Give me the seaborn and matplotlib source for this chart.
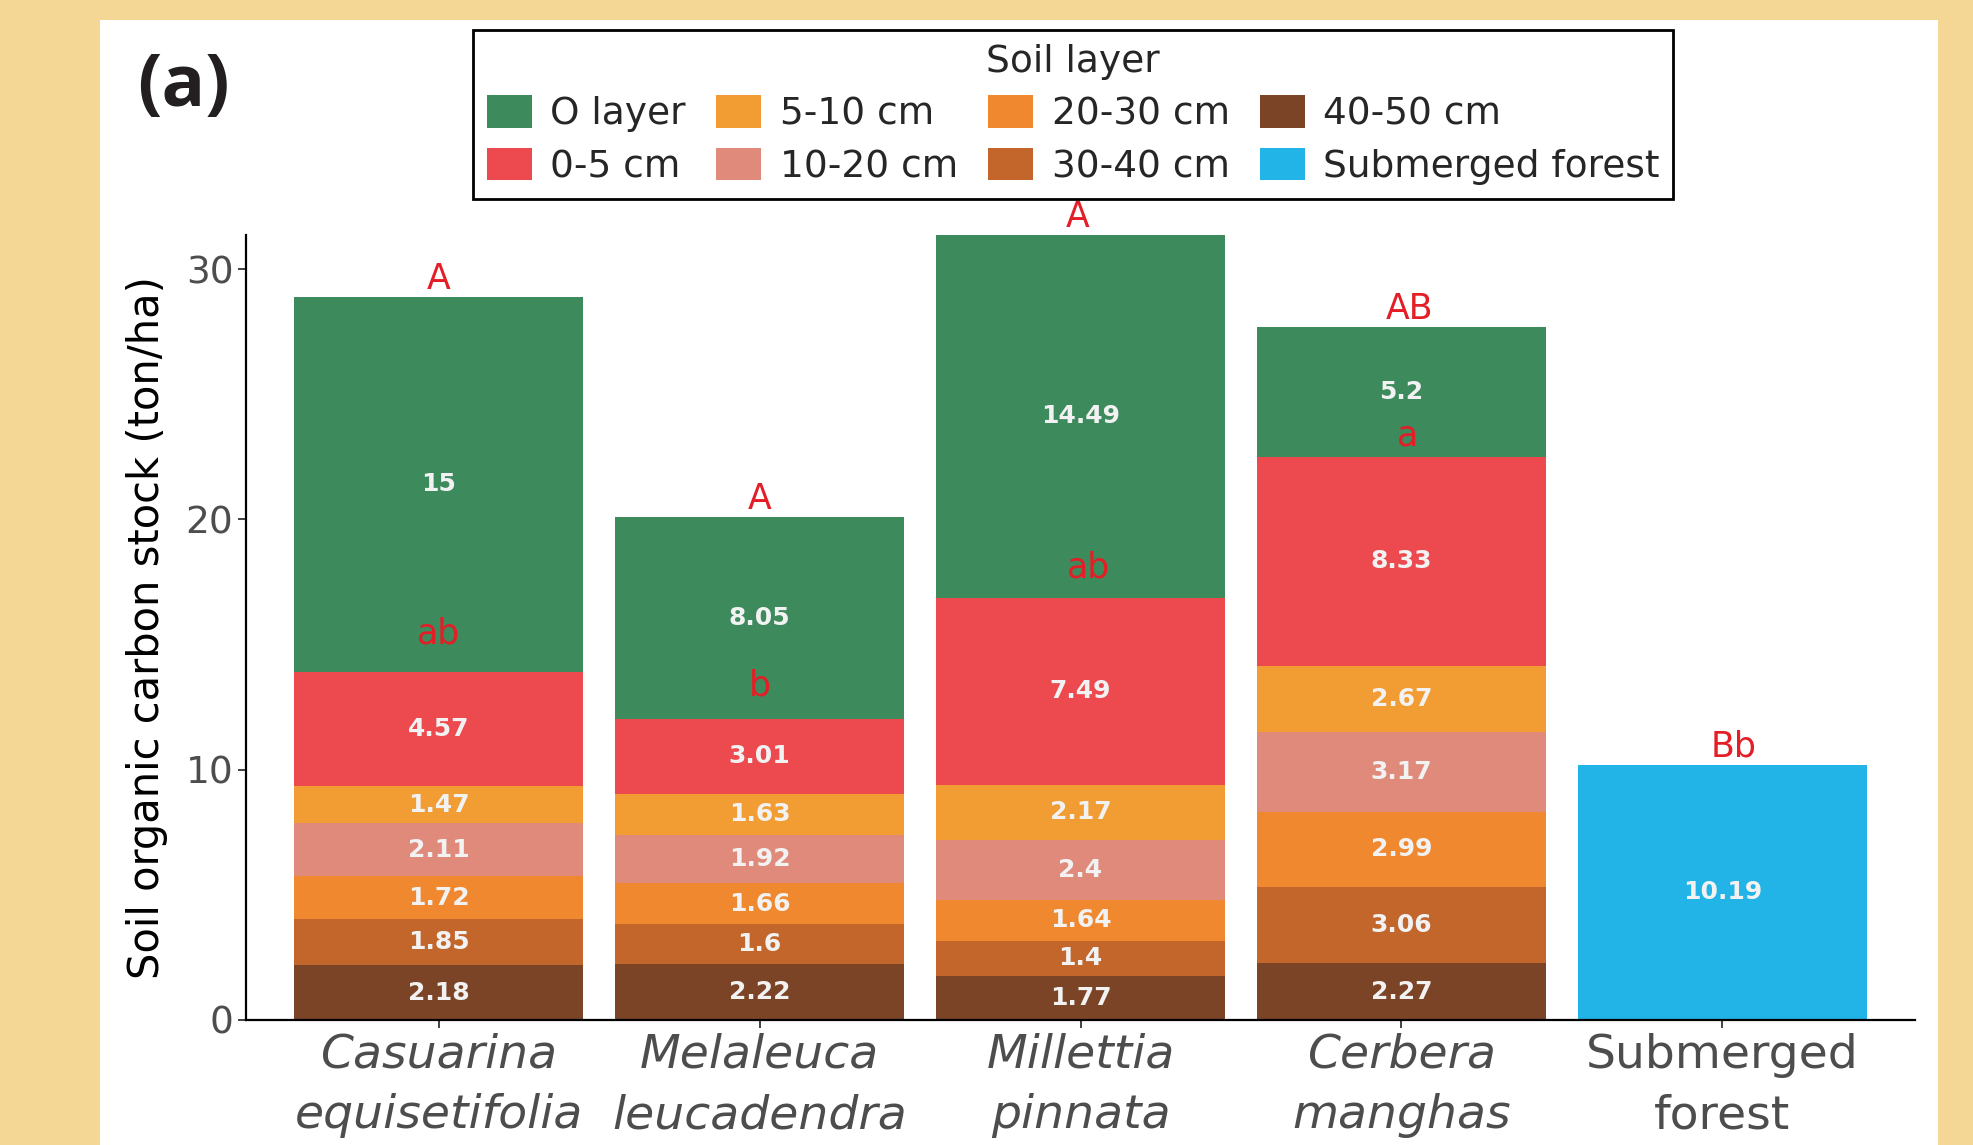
import matplotlib
matplotlib.use("Agg")
import matplotlib.pyplot as plt
import seaborn as sns
import pandas as pd
from matplotlib.patches import Patch, Rectangle

# ---------------- data ----------------
sites = ["Casuarina\nequisetifolia", "Melaleuca\nleucadendra", "Millettia\npinnata",
         "Cerbera\nmanghas", "Submerged\nforest"]
italic_site = [True, True, True, True, False]
layers = ["O layer", "0-5 cm", "5-10 cm", "10-20 cm", "20-30 cm", "30-40 cm",
          "40-50 cm", "Submerged forest"]
o_layer   = [15.0, 8.05, 14.49, 5.2, None]
cm0_5     = [4.57, 3.01, 7.49, 8.33, None]
cm5_10    = [1.47, 1.63, 2.17, 2.67, None]
cm10_20   = [2.11, 1.92, 2.4, 3.17, None]
cm20_30   = [1.72, 1.66, 1.64, 2.99, None]
cm30_40   = [1.85, 1.6, 1.4, 3.06, None]
cm40_50   = [2.18, 2.22, 1.77, 2.27, None]
submerged = [None, None, None, None, 10.19]
upper_letters = ["A", "A", "A", "AB", "Bb"]
lower_letters = ["ab", "b", "ab", "a", ""]
# annotation placement nudges (letters sit a bit above the segment tops)
lower_letter_offsets = [1.55, 1.34, 1.22, 0.87, 0.0]
upper_letter_offset = 0.72
upper_letter_xnudge = [0.0, 0.0, -0.01, 0.025, 0.035]
lower_letter_xnudge = [0.0, 0.0, 0.025, 0.02, 0.0]

layer_values = {"O layer": o_layer, "0-5 cm": cm0_5, "5-10 cm": cm5_10,
                "10-20 cm": cm10_20, "20-30 cm": cm20_30, "30-40 cm": cm30_40,
                "40-50 cm": cm40_50, "Submerged forest": submerged}
colors = {"O layer": "#3D8A5D", "0-5 cm": "#EC4A4F", "5-10 cm": "#F29C34",
          "10-20 cm": "#E08A7B", "20-30 cm": "#F0882F", "30-40 cm": "#C2662C",
          "40-50 cm": "#7B4427", "Submerged forest": "#22B4E6"}

# stack from bottom (deepest) to top
stack_order = ["40-50 cm", "30-40 cm", "20-30 cm", "10-20 cm", "5-10 cm",
               "0-5 cm", "O layer", "Submerged forest"]
rows = []
for i, s in enumerate(sites):
    cum = 0.0
    for lay in stack_order:
        v = layer_values[lay][i]
        if v is None:
            continue
        cum += v
        rows.append(dict(site=s, layer=lay, value=v, cum=cum, mid=cum - v / 2))
df = pd.DataFrame(rows)
totals = df.groupby("site", sort=False)["cum"].max().reindex(sites)
red_top = df[df.layer == "0-5 cm"].set_index("site")["cum"].reindex(sites)

# ---------------- figure ----------------
sns.set_theme(style="white")
plt.rcParams["font.family"] = ["DejaVu Sans"]

W, H = 1973, 1145
fig = plt.figure(figsize=(W / 100, H / 100), dpi=100)
fig.patch.set_facecolor("#F5D795")
fig.add_artist(Rectangle((100 / W, 0), (1938 - 100) / W, (H - 20) / H,
                         transform=fig.transFigure, facecolor="white",
                         edgecolor="none", zorder=-10))

ax = fig.add_axes([246 / W, (H - 1020) / H, (1915 - 246) / W, 785 / H])
ax.set_facecolor("white")
ax.patch.set_alpha(0)

# draw cumulative bars, tallest first so each shorter layer overlays
sns.barplot(data=df, x="site", y="cum", hue="layer", hue_order=layers,
            order=sites, palette=colors, dodge=False, width=0.9,
            saturation=1, errorbar=None, legend=False, ax=ax,
            edgecolor="none", linewidth=0)

# value labels
for _, r in df.iterrows():
    xi = sites.index(r.site)
    ax.text(xi, r.mid, f"{r.value:g}", ha="center", va="center",
            fontsize=18, fontweight="bold", color="#F2F2F2")

# significance letters
for i, s in enumerate(sites):
    ax.text(i + upper_letter_xnudge[i], totals[s] + upper_letter_offset,
            upper_letters[i], ha="center", va="center", fontsize=25,
            color="#E31E26", clip_on=False)
    if lower_letters[i]:
        ax.text(i + lower_letter_xnudge[i], red_top[s] + lower_letter_offsets[i],
                lower_letters[i], ha="center", va="center", fontsize=25,
                color="#E31E26")

# axes styling
ax.set_xlim(-0.6, 4.6)
ax.set_ylim(0, totals.max())
ax.set_yticks([0, 10, 20, 30])
sns.despine(ax=ax)
for sp in ["left", "bottom"]:
    ax.spines[sp].set_color("black")
    ax.spines[sp].set_linewidth(1.6)
ax.tick_params(axis="both", which="major", direction="out", length=6,
               width=1.3, color="#333333", labelcolor="#4D4D4D",
               left=True, bottom=True)
ax.tick_params(axis="y", labelsize=27, pad=3)
ax.tick_params(axis="x", labelsize=34, pad=3)
ax.set_xticks(range(len(sites)))
ax.set_xticklabels(sites, linespacing=1.45)
for lbl, it in zip(ax.get_xticklabels(), italic_site):
    lbl.set_fontstyle("italic" if it else "normal")
ax.set_xlabel("")
ax.set_ylabel("Soil organic carbon stock (ton/ha)", fontsize=30, color="black")
ax.yaxis.set_label_coords(-0.047, 0.5)

# legend
handles = [Patch(facecolor=colors[l], edgecolor="none") for l in layers]
leg = fig.legend(handles, layers, ncol=4, loc="upper left",
                 bbox_to_anchor=(473 / W, 1 - 30 / H),
                 bbox_transform=fig.transFigure, title="Soil layer",
                 fontsize=27, title_fontsize=27, frameon=True, fancybox=False,
                 edgecolor="black", handlelength=1.2, handleheight=0.95,
                 handletextpad=0.5, columnspacing=0.8, labelspacing=0.42,
                 borderpad=0.36, borderaxespad=0)
leg.get_frame().set_linewidth(2.0)
leg.get_frame().set_alpha(1)

# panel tag
fig.text(183 / W, 1 - 87 / H, "(a)", fontsize=52, fontweight="bold",
         family=["Open Sans", "DejaVu Sans"], color="#231F20",
         ha="center", va="center")

fig.savefig("out.png", dpi=100, facecolor=fig.get_facecolor())
